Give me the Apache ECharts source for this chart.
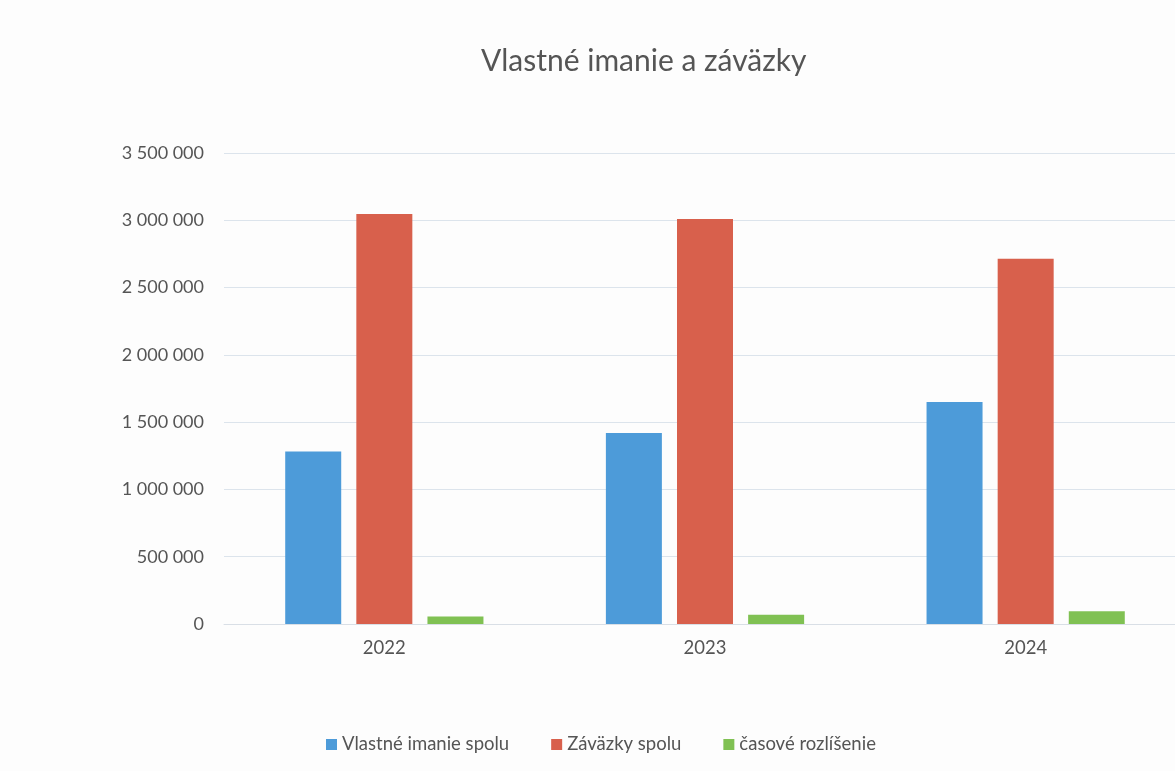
<!DOCTYPE html>
<html>
<head>
<meta charset="utf-8">
<script src="https://cdn.jsdelivr.net/npm/echarts@6/dist/echarts.min.js"></script>
<style>html,body{margin:0;padding:0;background:#fdfdfd;overflow:hidden;}#c{width:1186px;height:771px;}</style>
</head>
<body>
<div id="c"></div>
<script>
const categories = ['2022', '2023', '2024'];
const seriesNames = ['Vlastné imanie spolu', 'Záväzky spolu', 'časové rozlíšenie'];
const vlastneImanie = [1282000, 1419000, 1649000];
const zavazky = [3046000, 3009000, 2714000];
const casoveRozlisenie = [56000, 69000, 94000];
const colors = ['#4d9bd9', '#d8604c', '#80c153'];

const fmt = v => String(v).replace(/\B(?=(\d{3})+(?!\d))/g, ' ');
const font = 'Lato, "Open Sans", sans-serif';
const chart = echarts.init(document.getElementById('c'));
chart.setOption({
  backgroundColor: '#fdfdfd',
  color: colors,
  title: {
    text: 'Vlastné imanie a záväzky',
    left: 476, top: 41,
    textStyle: { fontFamily: font, fontSize: 30, fontWeight: 'normal', color: '#555' }
  },
  legend: {
    bottom: 12, left: 321,
    itemWidth: 11, itemHeight: 11, itemGap: 42,
    icon: 'rect',
    textStyle: { fontFamily: font, fontSize: 18.5, color: '#555' },
    data: seriesNames
  },
  grid: { left: 224, right: 0, top: 153, bottom: 147 },
  xAxis: {
    type: 'category', data: categories,
    axisLine: { lineStyle: { color: '#d9dfe6' } },
    axisTick: { show: false },
    axisLabel: { fontFamily: font, fontSize: 18.5, color: '#555', margin: 15 }
  },
  yAxis: {
    type: 'value', min: 0, max: 3500000, interval: 500000,
    axisLine: { show: false }, axisTick: { show: false },
    splitLine: { lineStyle: { color: '#dce4ec' } },
    axisLabel: { fontFamily: font, fontSize: 18, color: '#555', margin: 20, formatter: fmt }
  },
  series: [
    { name: seriesNames[0], type: 'bar', data: vlastneImanie, barWidth: 56, barGap: '27%' },
    { name: seriesNames[1], type: 'bar', data: zavazky, barWidth: 56, barGap: '27%' },
    { name: seriesNames[2], type: 'bar', data: casoveRozlisenie, barWidth: 56, barGap: '27%' }
  ]
});
</script>
</body>
</html>
